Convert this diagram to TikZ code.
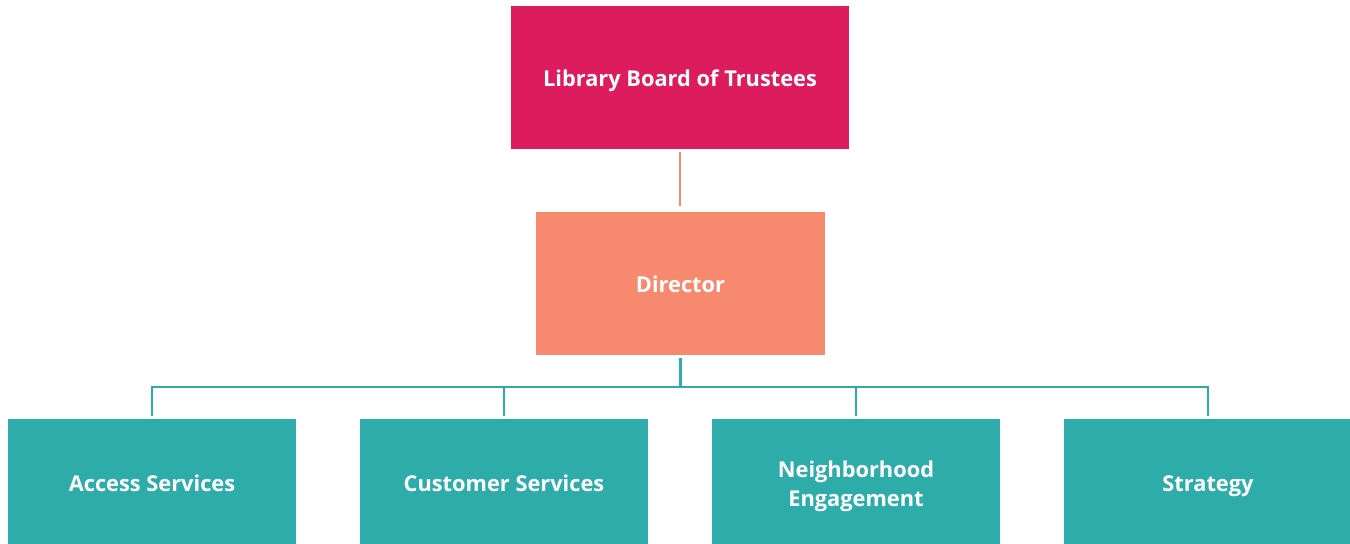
\documentclass[tikz,border=0pt]{standalone}
\usepackage{fontspec}
\setmainfont{Open Sans}
\definecolor{boardc}{HTML}{DC1C5C}
\definecolor{dirc}{HTML}{F7896F}
\definecolor{unitc}{HTML}{2EACAA}
\begin{document}
\begin{tikzpicture}[x=0.5pt,y=-0.5pt,
  box/.style={rectangle, inner sep=0pt, text=white, font=\fontsize{10.9}{14.5}\selectfont\bfseries, align=center, text height=11.25pt, text depth=2.75pt},
  boardbox/.style={box, fill=boardc, minimum width=169pt, minimum height=71.5pt},
  dirbox/.style={box, fill=dirc, minimum width=144.5pt, minimum height=71.5pt},
  unitbox/.style={box, fill=unitc, minimum width=144pt, minimum height=64pt},
  link/.style={line width=1.25pt},
  saltline/.style={link, draw=dirc},
  tealline/.style={link, draw=unitc}]
\useasboundingbox (0,0) rectangle (1350,543);
\node[boardbox] (board) at (680,77.5) {Library Board of Trustees};
\node[dirbox] (dir) at (680.5,283.5) {Director};
\node[unitbox] (a) at (152,483) {Access Services};
\node[unitbox] (b) at (504,483) {Customer Services};
\node[unitbox, text height=25.75pt] (c) at (856,483) {Neighborhood\\Engagement};
\node[unitbox] (d) at (1208,483) {Strategy};
\coordinate (bus) at (680,387);
\draw[saltline, shorten <=1.5pt, shorten >=3pt] (board.south) -- (board.south |- dir.north);
\draw[tealline, shorten <=1.5pt] (dir.south) -- (dir.south |- bus);
\draw[tealline] ([xshift=-0.625pt]a.north |- bus) -- ([xshift=0.625pt]d.north |- bus);
\foreach \n in {a,b,c,d}
  \draw[tealline, shorten >=1.5pt] (\n.north |- bus) -- (\n.north);
\end{tikzpicture}
\end{document}
